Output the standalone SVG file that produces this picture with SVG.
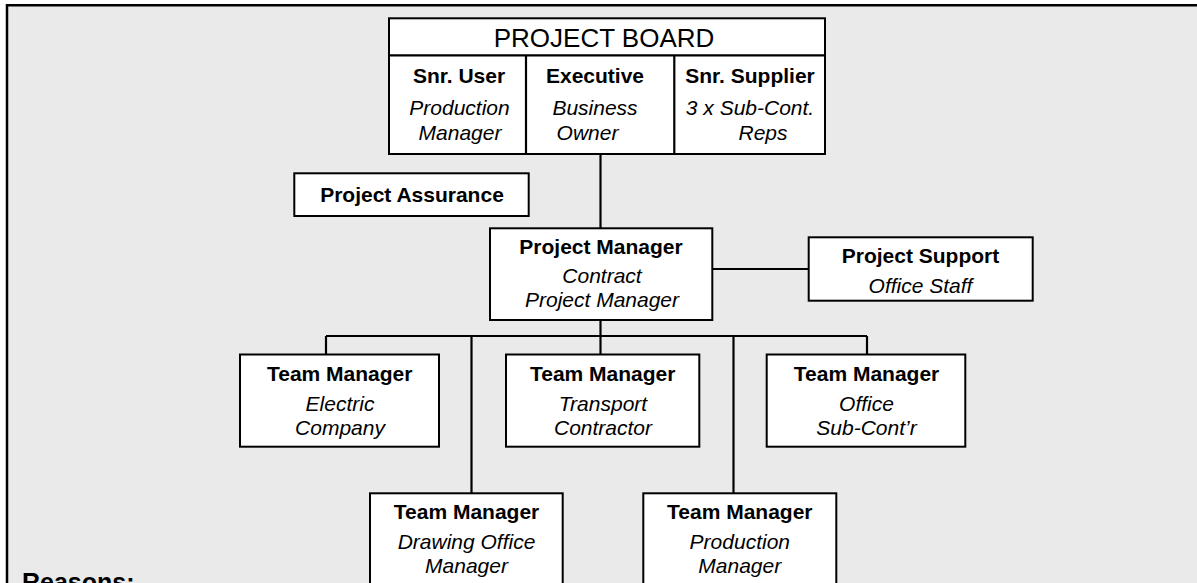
<svg xmlns="http://www.w3.org/2000/svg" width="1197" height="583" viewBox="0 0 1197 583">
<style>
.box{fill:#fff;stroke:#000;stroke-width:2}
.ln{fill:none;stroke:#000;stroke-width:2.2}
text{font-family:"Liberation Sans",Arial,sans-serif;font-size:21px;text-anchor:middle;fill:#000}
.b{font-weight:bold}
.i{font-style:italic}
.h{font-size:26px}
</style>
<rect x="0" y="0" width="1197" height="583" fill="#fff"/>
<rect x="7" y="5.3" width="1190" height="578" fill="#eaeaea"/>
<path d="M7,583 V5.3 H1197" fill="none" stroke="#000" stroke-width="2.5"/>

<g id="connectors">
<path class="ln" d="M600.5,154 V228.5"/>
<path class="ln" d="M712,269 H808.5"/>
<path class="ln" d="M600.5,320 V336"/>
<path class="ln" d="M326,336 H867"/>
<path class="ln" d="M326,336 V354.5"/>
<path class="ln" d="M600.5,336 V354.5"/>
<path class="ln" d="M867,336 V354.5"/>
<path class="ln" d="M471.5,336 V493.3"/>
<path class="ln" d="M733.5,336 V493.3"/>
</g>

<g id="project-board">
<rect class="box" x="389" y="18.3" width="436" height="135.7"/>
<path class="ln" d="M389,55.3 H825 M526,55.3 V154 M674.3,55.3 V154" stroke-width="2"/>
<text class="h" x="604" y="46.5">PROJECT BOARD</text>
<text class="b" x="459" y="83">Snr. User</text>
<text class="i" x="459.5" y="114.5">Production</text>
<text class="i" x="460" y="140">Manager</text>
<text class="b" x="595" y="83">Executive</text>
<text class="i" x="595" y="114.5">Business</text>
<text class="i" x="587.5" y="140">Owner</text>
<text class="b" x="750" y="83">Snr. Supplier</text>
<text class="i" x="750" y="114.5">3 x Sub-Cont.</text>
<text class="i" x="763" y="140">Reps</text>
</g>

<g id="project-assurance">
<rect class="box" x="294.3" y="173.3" width="234.4" height="42.7"/>
<text class="b" x="412" y="201.5">Project Assurance</text>
</g>

<g id="project-manager">
<rect class="box" x="490" y="228.3" width="222.3" height="91.7"/>
<text class="b" x="601" y="254">Project Manager</text>
<text class="i" x="602" y="283.3">Contract</text>
<text class="i" x="602" y="307.3">Project Manager</text>
</g>

<g id="project-support">
<rect class="box" x="808.7" y="237.3" width="224" height="63.4"/>
<text class="b" x="920.5" y="263.3">Project Support</text>
<text class="i" x="920.5" y="292.7">Office Staff</text>
</g>

<g id="tm-electric">
<rect class="box" x="240" y="354.5" width="199" height="92.2"/>
<text class="b" x="339.7" y="380.7">Team Manager</text>
<text class="i" x="340" y="410.7">Electric</text>
<text class="i" x="340" y="434.5">Company</text>
</g>

<g id="tm-transport">
<rect class="box" x="506" y="354.5" width="193.3" height="92.2"/>
<text class="b" x="602.7" y="380.7">Team Manager</text>
<text class="i" x="603" y="410.7">Transport</text>
<text class="i" x="603" y="434.5">Contractor</text>
</g>

<g id="tm-office">
<rect class="box" x="766.7" y="354.5" width="198.6" height="92.2"/>
<text class="b" x="866.5" y="380.7">Team Manager</text>
<text class="i" x="866.5" y="410.7">Office</text>
<text class="i" x="866.5" y="434.5">Sub-Cont’r</text>
</g>

<g id="tm-drawing">
<rect class="box" x="370" y="493.3" width="192.7" height="100"/>
<text class="b" x="466.5" y="519.3">Team Manager</text>
<text class="i" x="466.5" y="549.3">Drawing Office</text>
<text class="i" x="466.5" y="573.3">Manager</text>
</g>

<g id="tm-production">
<rect class="box" x="643.3" y="493.3" width="193" height="100"/>
<text class="b" x="739.8" y="519.3">Team Manager</text>
<text class="i" x="739.8" y="549.3">Production</text>
<text class="i" x="739.8" y="573.3">Manager</text>
</g>

<text class="b" x="22" y="591" style="text-anchor:start;font-size:25px">Reasons:</text>
</svg>
